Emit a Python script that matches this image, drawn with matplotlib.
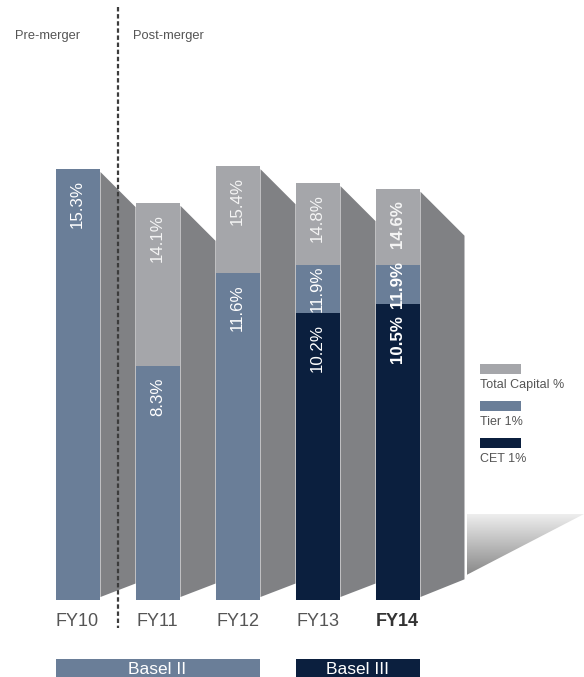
import numpy as np
import matplotlib
matplotlib.use("Agg")
import matplotlib.pyplot as plt
from matplotlib.patches import Polygon, Rectangle

plt.rcParams['font.family'] = ['Liberation Sans', 'DejaVu Sans']

years = ["FY10", "FY11", "FY12", "FY13", "FY14"]
total_capital = [None, 14.1, 15.4, 14.8, 14.6]
tier1 = [15.3, 8.3, 11.6, 11.9, 11.9]
cet1 = [None, None, None, 10.2, 10.5]
bold_year = "FY14"

C_TOTAL = "#a5a6aa"
C_TIER = "#6a7e98"
C_CET = "#0b1f3e"
C_SIDE = "#808184"
C_TEXT = "#555555"

W, H = 584, 677
fig = plt.figure(figsize=(W / 100, H / 100), dpi=100)
ax = fig.add_axes([0, 0, 1, 1])

# pixel scale of the axes: 80 px per category, ~28.2 px per percentage point
PX_X = 80.0
PX_Y = 28.17
x0_px, base_px = 77.5, 600
ax.set_xlim(-x0_px / PX_X, (W - x0_px) / PX_X)
ax.set_ylim(-(H - base_px) / PX_Y, base_px / PX_Y)
ax.axis("off")

def px_x(p):
    return p / PX_X

def px_y(p):
    return p / PX_Y

bar_w = px_x(44)
x = np.arange(len(years))

# stacked segments, lowest first
stacks = []
for i in range(len(years)):
    segs = []
    prev = 0.0
    for val, col in ((cet1[i], C_CET), (tier1[i], C_TIER), (total_capital[i], C_TOTAL)):
        if val is None:
            continue
        segs.append((prev, val, col))
        prev = val
    stacks.append(segs)

for i, segs in enumerate(stacks):
    for lo, hi, col in segs:
        ax.bar(x[i], hi - lo, bottom=lo, width=bar_w, color=col, zorder=3, linewidth=0)

# shaded side panels running down to the next bar
for i, segs in enumerate(stacks):
    top = segs[-1][1]
    left = x[i] + bar_w / 2 + px_x(1)
    if i < len(years) - 1:
        right = x[i + 1] - bar_w / 2
    else:
        right = left + px_x(44)
    depth_px = (right - left) * PX_X
    ytop = top - px_y(3)
    pts = [(left, ytop), (right, ytop - px_y(depth_px)),
           (right, px_y(0.47 * depth_px)), (left, px_y(3))]
    ax.add_patch(Polygon(pts, closed=True, facecolor=C_SIDE, edgecolor="none", zorder=2))
    last_right = right

# floor wedge with a vertical grey gradient
fl = last_right + px_x(2)
fr = (W - x0_px) / PX_X
ftop, fbot = px_y(86), px_y(25)
wedge = Polygon([(fl, ftop), (fr, ftop), (fl, fbot)], closed=True,
                facecolor="none", edgecolor="none")
ax.add_patch(wedge)
grad = np.linspace(0, 1, 256).reshape(-1, 1)
img = ax.imshow(grad, extent=(fl, fr, fbot, ftop), aspect="auto",
                cmap=matplotlib.colors.LinearSegmentedColormap.from_list(
                    "floor", ["#888888", "#eeeeee"]), origin="lower", zorder=2)
img.set_clip_path(wedge)

# value labels inside the segments
pad = px_y(11)
txt_len = px_y(46)
for i, segs in enumerate(stacks):
    weight = "bold" if years[i] == bold_year else "normal"
    for lo, hi, col in segs:
        tc = "#f4f4f4" if col == C_TOTAL else "white"
        if hi - lo >= txt_len + 2 * pad:
            ax.text(x[i], hi - pad, f"{hi:.1f}%", rotation=90, ha="center", va="top",
                    color=tc, fontsize=12.2, fontweight=weight, zorder=5)
        else:
            ax.text(x[i], (hi + lo) / 2, f"{hi:.1f}%", rotation=90, ha="center",
                    va="center", color=tc, fontsize=12.2, fontweight=weight, zorder=5)

# category labels
for i, yr in enumerate(years):
    b = yr == bold_year
    ax.text(x[i], -px_y(22), yr, ha="center", va="center", fontsize=13,
            color="#333333" if b else C_TEXT, fontweight="bold" if b else "normal")

# merger divider
ax.plot([0.5, 0.5], [px_y(593), -px_y(28)], color="#3c3c3c", lw=1.6,
        linestyle=(0, (2, 1.2)), zorder=6)
ax.text(-px_x(62), px_y(564), "Pre-merger", ha="left", va="center", fontsize=9.3, color=C_TEXT)
ax.text(0.5 + px_x(15), px_y(564), "Post-merger", ha="left", va="center", fontsize=9.3, color=C_TEXT)

# regime boxes under the axis
regimes = [("Basel II", 0, 2, C_TIER), ("Basel III", 3, 4, C_CET)]
for name, a, b, col in regimes:
    xl = x[a] - bar_w / 2
    xr = x[b] + bar_w / 2
    ax.add_patch(Rectangle((xl, -px_y(100)), xr - xl, px_y(100 - 59),
                           facecolor=col, edgecolor="none", zorder=3))
    ax.text((xl + xr) / 2, -px_y(76.5), name, ha="center", va="bottom",
            color="white", fontsize=12.5, zorder=4)

# legend: swatch with caption underneath
legend = [("Total Capital %", C_TOTAL), ("Tier 1%", C_TIER), ("CET 1%", C_CET)]
for k, (lab, col) in enumerate(legend):
    top = 364 + k * 36.8
    fig.add_artist(Rectangle((480 / W, 1 - (top + 10) / H), 41 / W, 10 / H,
                             transform=fig.transFigure, facecolor=col, edgecolor="none"))
    fig.text(480 / W, 1 - (top + 21) / H, lab, ha="left", va="center",
             fontsize=9, color=C_TEXT)

fig.savefig("out.png", dpi=100)
